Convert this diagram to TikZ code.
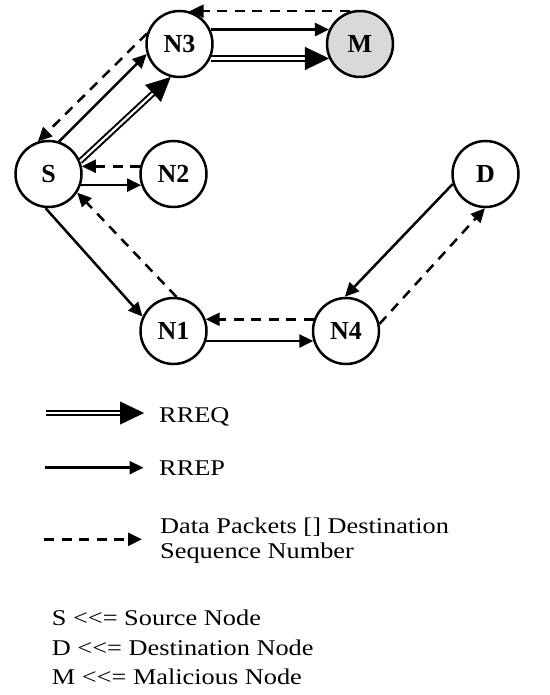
\documentclass[tikz,border=0pt]{standalone}
\usepackage{fontspec}
\setmainfont{Liberation Serif}
\newfontfamily\legfont[FakeStretch=1.17]{Liberation Serif}
\usetikzlibrary{arrows.meta}
\begin{document}
\begin{tikzpicture}[x=1pt,y=-1pt,
  nd/.style={circle, draw, line width=2.5pt, minimum size=66pt, inner sep=0pt, font=\fontsize{26}{28}\selectfont\bfseries},
  sol/.style={line width=2.5pt, -{Triangle[length=14pt,width=13pt]}},
  dsh/.style={line width=2.5pt, dash pattern=on 10pt off 7.5pt, -{Triangle[length=14pt,width=13pt]}},
  dblline/.style={line width=2pt, double, double distance=2.2pt, shorten >=16pt},
  dblhead/.style={white, line width=0.4pt, -{Triangle[length=24pt,width=23pt,color=black]}},
  leg/.style={anchor=base west, inner sep=0pt, font=\legfont\fontsize{22.5}{25}\selectfont}
]
\useasboundingbox (0,0) rectangle (549,695);
% nodes
\node[nd] (N3) at (179.5,44) {N3};
\node[nd, fill=gray!30] (M) at (360,44) {M};
\node[nd] (S) at (48.5,174) {S};
\node[nd] (N2) at (173.5,174) {N2};
\node[nd] (D) at (485.5,174) {D};
\node[nd] (N1) at (173.5,331) {N1};
\node[nd] (N4) at (346,331) {N4};
% connectors
\draw[dsh] (M.107) -- (N3.73);
\draw[sol] (N3.25) -- (M.155);
\draw[dblline] (N3.-25) -- (M.205);
\draw[dblhead] (N3.-25) -- (M.205);
\draw[dsh] (N3.162) -- (S.108);
\draw[sol] (S.72) -- (N3.197);
\draw[dblline] (S.22) -- (N3.255);
\draw[dblhead] (S.22) -- (N3.255);
\draw[dsh] (N2.167) -- (S.13);
\draw[sol] (S.-19) -- (N2.199);
\draw[dsh] (N1.85) -- (S.-33);
\draw[sol] (S.-95) -- (N1.155);
\draw[dsh] (N4.160) -- (N1.20);
\draw[sol] (N1.-17) -- (N4.197);
\draw[sol] (D.197) -- (N4.92);
\draw[dsh] (N4.12) -- (D.-91);
% legend
\coordinate (q1a) at (46,413);
\coordinate (q1b) at (144,413);
\coordinate (q2a) at (45,467.7);
\coordinate (q2b) at (143.5,467.7);
\coordinate (q3a) at (44,539.3);
\coordinate (q3b) at (142,539.3);
\draw[dblline] (q1a) -- (q1b);
\draw[dblhead] (q1a) -- (q1b);
\draw[sol] (q2a) -- (q2b);
\draw[dsh] (q3a) -- (q3b);
\node[leg] (rreq) at (159,422.3) {RREQ};
\node[leg] (rrep) at (159,475) {RREP};
\node[leg, align=left, anchor=north west] (data) at (160,518) {Data Packets [] Destination\\Sequence Number};
\node[leg, align=left, anchor=north west, font=\legfont\fontsize{22.5}{29.2}\selectfont] (key) at (51.7,610) {S <\kern0pt<\kern0pt= Source Node\\D <\kern0pt<\kern0pt= Destination Node\\M <\kern0pt<\kern0pt= Malicious Node};
\end{tikzpicture}
\end{document}
